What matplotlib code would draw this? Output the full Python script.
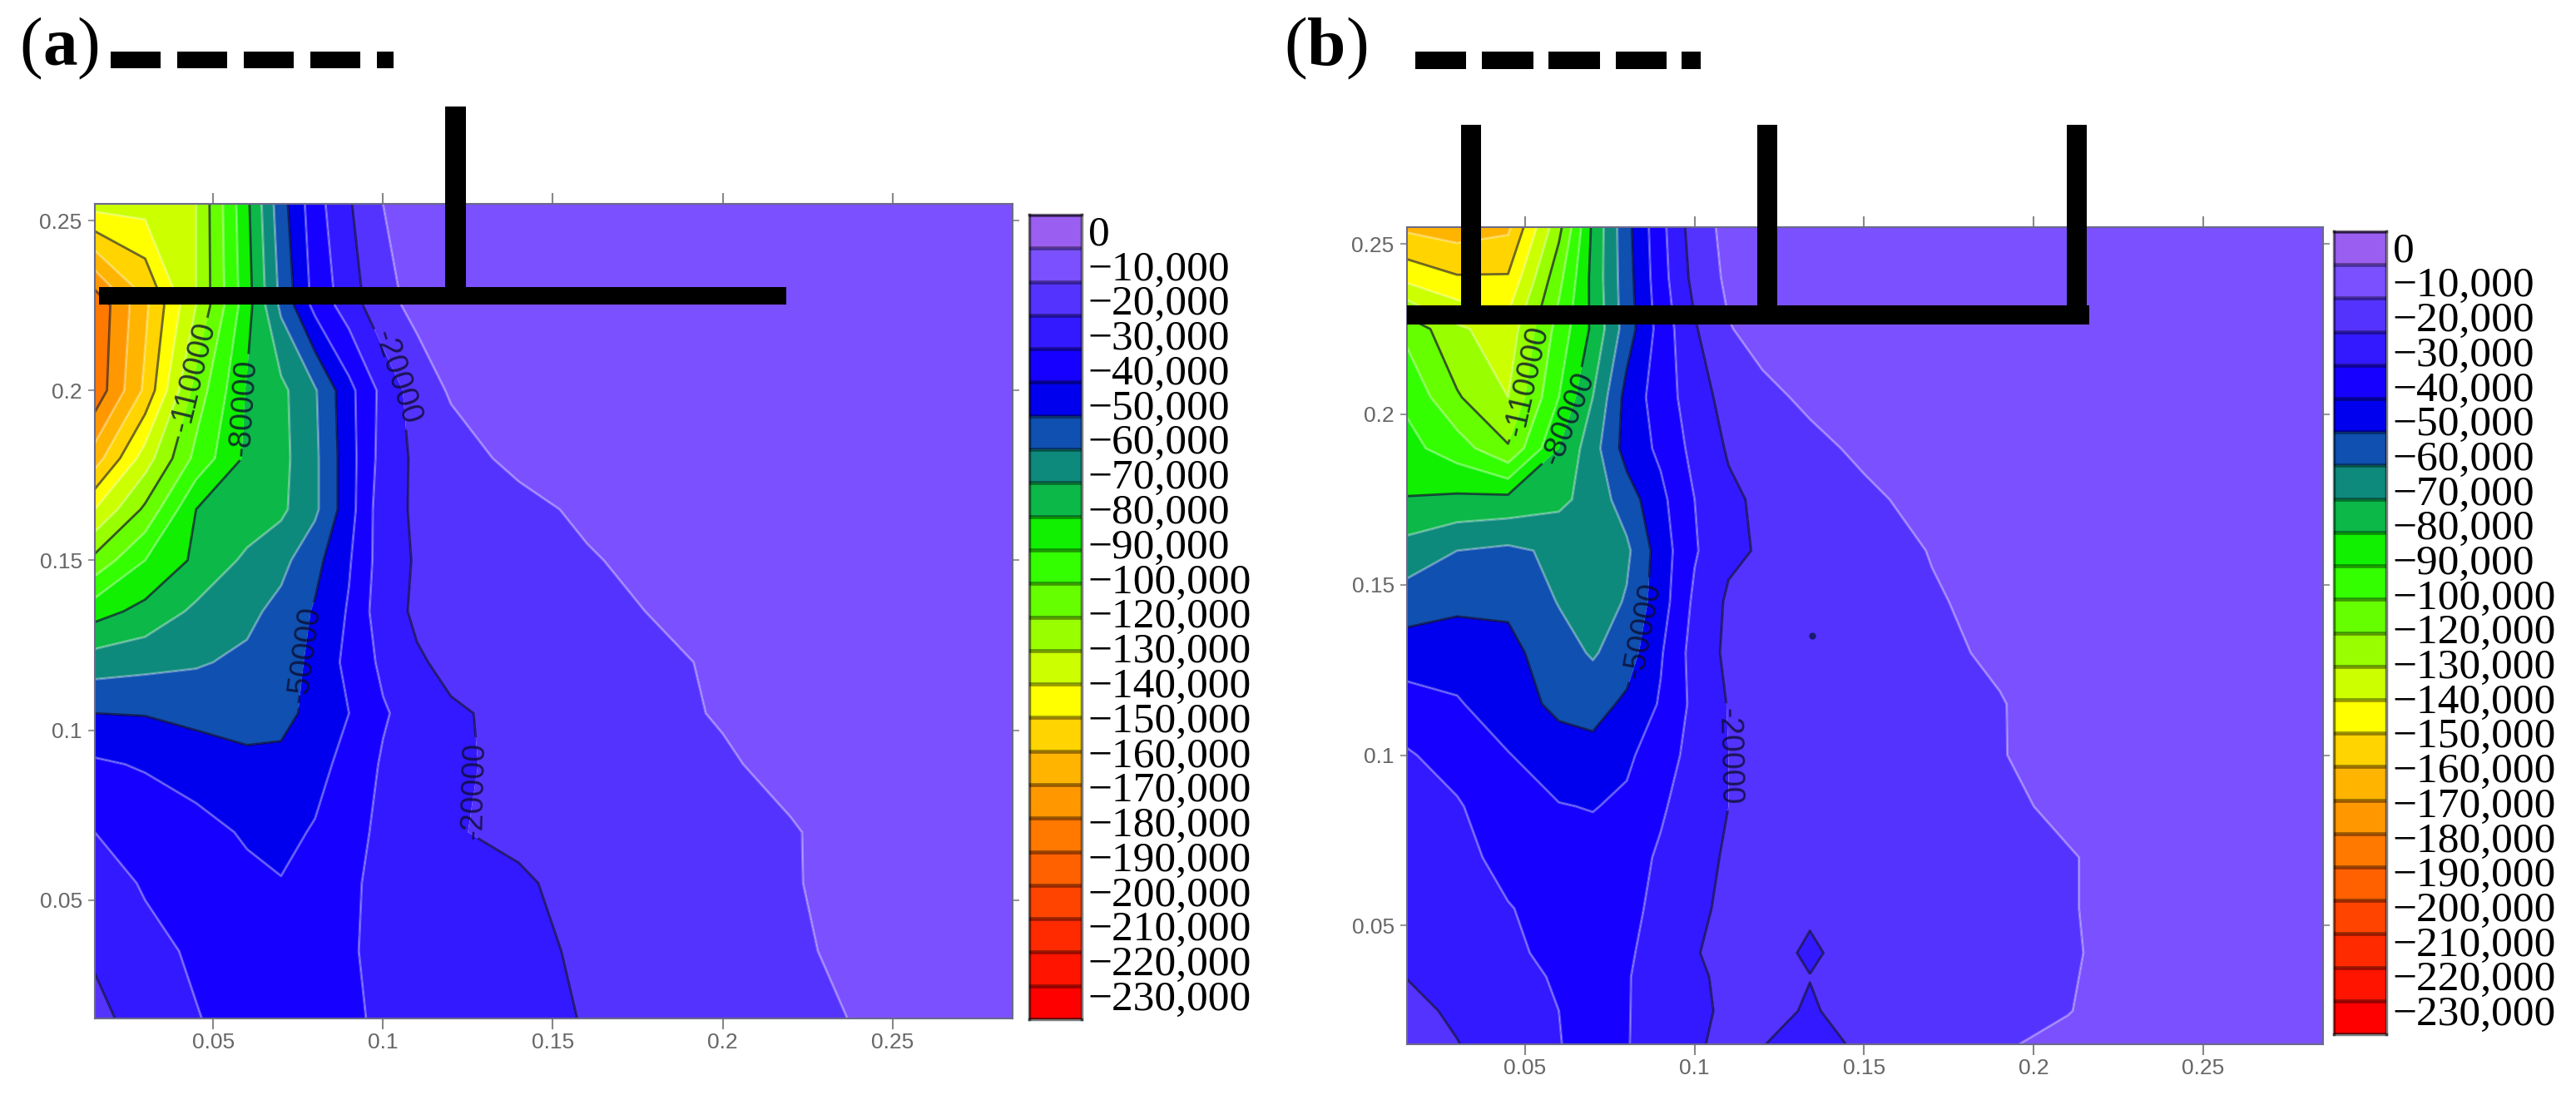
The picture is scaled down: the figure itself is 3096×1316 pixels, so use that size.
"""Two contour panels (a, b) with a stepped colour bar and black probe sketches."""
import numpy as np
import matplotlib
matplotlib.use("Agg")
import matplotlib.pyplot as plt
from matplotlib.colors import ListedColormap
from matplotlib.patches import Rectangle

W, H = 3096, 1316

# field values in thousands, rows run bottom to top
X_A = [0.0152, 0.03, 0.045, 0.06, 0.07, 0.08, 0.09, 0.10, 0.11, 0.12, 0.14, 0.16, 0.18, 0.20, 0.22, 0.24, 0.2853]
Y_A = [0.0152, 0.035, 0.055, 0.07, 0.09, 0.105, 0.12, 0.135, 0.15, 0.165, 0.18, 0.2, 0.225, 0.2549]
Z_A = [
    [-18, -23, -29.5, -34, -36, -35, -32, -28, -26, -25, -23, -19.5, -17, -15, -12.5, -9.5, -1],
    [-21, -27, -31.5, -34, -35, -34, -31, -27.5, -25.5, -24.5, -22.5, -18.5, -16, -14, -12, -7, -1],
    [-25, -31, -34.5, -38, -39.5, -36.5, -31.5, -27.5, -25, -24, -21, -17.5, -15.5, -13.5, -11, -5.5, -1],
    [-30, -33, -37, -41, -43, -39, -33, -28, -24.5, -20.5, -18.5, -17, -15.5, -14, -11, -5, -1],
    [-38.5, -41, -44, -47, -47.5, -44, -36, -29, -25, -21, -18.5, -16.5, -14.5, -11.5, -6.5, -4, -1],
    [-50, -50.5, -53, -55, -53, -47, -40, -31, -26, -21, -18, -16, -13, -9, -6, -3.5, -1],
    [-65, -63, -61, -58, -54, -48, -37, -28, -21, -18, -16.5, -15, -12, -8.5, -5, -3, -1],
    [-84, -77, -68, -62.5, -57, -49, -39, -24, -18.5, -17.5, -16, -13, -9.5, -6, -4, -2.5, -1],
    [-107, -90, -78, -68, -63, -53, -41, -25, -19, -18, -15, -11, -7, -5, -3.5, -2.5, -1],
    [-130, -108, -80, -76, -72, -62, -44, -24, -18.5, -17, -13, -8, -5, -4, -3, -2, -1],
    [-155, -125, -97, -78, -73, -62, -44, -26, -18, -14, -7.5, -4, -3.5, -3, -2.5, -2, -1],
    [-177, -148, -106, -79, -72.5, -61, -43, -27, -15, -9, -5, -3.5, -3, -2.5, -2, -2, -1],
    [-178, -152, -120, -84, -58, -37, -25, -13, -7.5, -5, -3.5, -3, -2.5, -2, -2, -1.5, -1],
    [-126, -126, -120, -82, -54, -34, -21, -10, -6, -4, -3, -2.5, -2, -2, -1.5, -1.5, -1],
]

X_B = [0.0152, 0.03, 0.045, 0.06, 0.07, 0.08, 0.09, 0.10, 0.11, 0.12, 0.134, 0.15, 0.17, 0.19, 0.21, 0.23, 0.2853]
Y_B = [0.0152, 0.025, 0.035, 0.042, 0.055, 0.07, 0.085, 0.10, 0.115, 0.13, 0.145, 0.16, 0.175, 0.19, 0.205, 0.225, 0.24, 0.2549]
Z_B = [
    [-15, -19.7, -25, -29.7, -33, -30.3, -27, -21, -18, -19.7, -24, -18, -15, -11, -7.5, -4, -1],
    [-17.5, -21.5, -26, -30, -33, -30.5, -26, -22.5, -18, -17, -21, -16, -15, -13, -10.4, -5, -1],
    [-20.2, -23.5, -27, -31, -33, -30.5, -26.5, -21.5, -18, -16.5, -19.8, -15.5, -15, -14, -11, -5, -1],
    [-21, -24.5, -28.5, -32, -33, -31, -27, -20.5, -17.5, -16, -21.5, -15.5, -15, -14, -11.5, -5, -1],
    [-23, -26, -29.5, -33.5, -35, -32, -28, -22, -18, -16.5, -18.5, -16, -15.5, -14.5, -11, -5, -1],
    [-24.5, -27, -33, -36, -36, -33, -29, -25.5, -18, -17, -16.5, -16, -15.5, -14.5, -11, -5, -1],
    [-27, -29, -36.5, -39.5, -40.5, -38, -31, -26, -20, -18.5, -17.5, -16.5, -15, -13, -7, -4, -1],
    [-29, -34, -39.5, -46, -46.5, -42, -34, -27, -20, -18, -17, -16, -14, -10.5, -6, -3.5, -1],
    [-36, -39, -46, -52, -54, -48, -39, -27.5, -19.5, -17, -16, -15, -13, -10.5, -5.5, -3, -1],
    [-45, -45, -47, -56, -61, -55, -41, -26, -18, -17, -16, -14.5, -12, -8.5, -5, -3, -1],
    [-55, -52, -52, -60.5, -66, -59, -44.5, -28, -18.5, -18, -17, -15, -11, -7, -4.5, -3, -1],
    [-66, -60, -58, -62, -65, -62, -45, -31, -22, -19, -18, -15, -9.5, -6, -4, -3, -1],
    [-79.5, -78, -77, -72.5, -66, -55, -42.5, -30, -22, -18, -16, -11.5, -7.5, -5, -3.5, -2.5, -1],
    [-87, -95, -109, -80, -64, -46, -38, -27, -19, -16.5, -12, -8.5, -5, -3.5, -3, -2, -1],
    [-92, -109, -120, -90, -70, -46.5, -35, -25, -16, -12, -8.5, -6, -4, -3, -2.5, -2, -1],
    [-103, -118, -126, -96, -78, -55, -36, -21, -10.5, -7, -5, -3.5, -3, -2.5, -2, -1.5, -1],
    [-133, -139, -139, -103, -77, -54, -34, -17, -8, -5, -4, -3.5, -3, -2.5, -2, -1.5, -1],
    [-152, -155, -152, -113, -78, -53, -33, -15, -7, -5, -4, -3.5, -3, -2.5, -2, -1.5, -1],
]

LEVELS = list(range(-230, 1, 10))
DARK_LEVELS = [-170, -140]
LABELLED_LEVELS = [-110, -80, -50, -20]
LIGHT_LEVELS = [-160, -150, -130, -120, -100, -90, -70, -60, -40, -30, -10]
STEP_COLOURS = ["#9A5FF0", "#7B50FF", "#5533FF", "#3319FF", "#1600FF", "#0000EE", "#0F50B0", "#0E8A7C",
                "#0CB848", "#10F000", "#33FF00", "#66FF00", "#99FF00", "#CCFF00", "#FFFF00", "#FFD400",
                "#FFB400", "#FF9800", "#FF7800", "#FF6000", "#FF4400", "#FF2A00", "#FF1400", "#FF0000"]
BAR_LABELS = ["0", "−10,000", "−20,000", "−30,000", "−40,000", "−50,000", "−60,000", "−70,000",
              "−80,000", "−90,000", "−100,000", "−120,000", "−130,000", "−140,000", "−150,000",
              "−160,000", "−170,000", "−180,000", "−190,000", "−200,000", "−210,000", "−220,000", "−230,000"]
TICKS = [0.05, 0.1, 0.15, 0.2, 0.25]
TICK_LABELS = ["0.05", "0.1", "0.15", "0.2", "0.25"]

# contour label anchors
LABELS_A = [(0.0436, 0.204), (0.0593, 0.195), (0.078, 0.122), (0.101, 0.2023), (0.1218, 0.083)]
LABELS_B = [(0.0512, 0.2096), (0.0618, 0.199), (0.0831, 0.1369), (0.1093, 0.0995)]
SPECK_B = ([0.1346], [0.135])

# pixel boxes: left, top, right, bottom
PLOT_A = (114, 245, 1217, 1224)
PLOT_B = (1691, 273, 2792, 1255)
CBAR_A = (1237, 258, 1300, 1225)
CBAR_B = (2805, 278, 2868, 1243)

# black sketch overlay, pixel boxes
SKETCH_RECTS = [
    (133, 62, 193, 82), (213, 62, 273, 82), (293, 62, 353, 82), (373, 62, 433, 82), (453, 62, 473, 82),
    (119, 345, 945, 366), (535, 128, 560, 350),
    (1701, 62, 1762, 83), (1781, 62, 1843, 83), (1861, 62, 1923, 83), (1942, 62, 2003, 83), (2021, 62, 2044, 83),
    (1691, 367, 2511, 390), (1756, 150, 1780, 370), (2112, 150, 2136, 370), (2484, 150, 2508, 370),
]

plt.rcParams["font.family"] = ["Liberation Sans", "DejaVu Sans"]


def px_axes(fig, box, **kw):
    l, t, r, b = box
    return fig.add_axes([l / W, 1 - b / H, (r - l) / W, (b - t) / H], **kw)


def draw_panel(fig, box, x, y, z, label_pos, xlim, ylim):
    ax = px_axes(fig, box)
    x, y, z = np.array(x), np.array(y), np.array(z)
    ax.contourf(x, y, z, levels=LEVELS, colors=STEP_COLOURS[:0:-1], antialiased=True)
    ax.contour(x, y, z, levels=LIGHT_LEVELS, colors="white", alpha=0.3, linewidths=2.2, linestyles="solid")
    ax.contour(x, y, z, levels=DARK_LEVELS, colors="#101030", alpha=0.6, linewidths=2.0, linestyles="solid")
    cs = ax.contour(x, y, z, levels=LABELLED_LEVELS, colors="#101030", alpha=0.7, linewidths=2.0,
                    linestyles="solid")
    texts = ax.clabel(cs, manual=label_pos, inline=True, inline_spacing=6,
                      fontsize=27, fmt=lambda v: f"{v * 1000:.0f}")
    for t in texts:
        t.set_color("#0c0c30")
        t.set_alpha(0.8)
    ax.set_xlim(xlim)
    ax.set_ylim(ylim)
    ax.set_xticks(TICKS, TICK_LABELS)
    ax.set_yticks(TICKS, TICK_LABELS)
    ax.tick_params(axis="x", top=True, direction="out", length=9.5, width=1.5, color="#888888",
                   labelsize=19, labelcolor="#666666", pad=3)
    ax.tick_params(axis="y", right=True, direction="out", length=6, width=1.5, color="#999999",
                   labelsize=19, labelcolor="#666666", pad=5)
    for s in ax.spines.values():
        s.set_color("#6a6a8a")
        s.set_linewidth(1.5)
    return ax


def draw_bar(fig, box):
    cax = px_axes(fig, box)
    cells = np.arange(len(STEP_COLOURS)).reshape(-1, 1)
    cax.pcolormesh(cells, cmap=ListedColormap(STEP_COLOURS), vmin=-0.5, vmax=len(STEP_COLOURS) - 0.5)
    # darker separators between the steps, as in the pasted legend
    for i in range(len(STEP_COLOURS) + 1):
        cax.axhline(i, color="black", alpha=0.4, linewidth=3.4)
    cax.set_ylim(len(STEP_COLOURS), 0)
    cax.set_xticks([])
    cax.yaxis.tick_right()
    cax.set_yticks([0.47 + i * 1.037 for i in range(len(BAR_LABELS))], BAR_LABELS)
    cax.tick_params(axis="y", length=0, pad=5.5, labelsize=37, labelfontfamily="Liberation Serif")
    for s in cax.spines.values():
        s.set_color((0, 0, 0, 0.5))
        s.set_linewidth(2.5)
    return cax


fig = plt.figure(figsize=(W / 100, H / 100), dpi=100, facecolor="white")

draw_panel(fig, PLOT_A, X_A, Y_A, Z_A, LABELS_A, (0.0152, 0.2853), (0.0152, 0.2549))
ax_b = draw_panel(fig, PLOT_B, X_B, Y_B, Z_B, LABELS_B, (0.0152, 0.2853), (0.0152, 0.2549))
ax_b.plot(*SPECK_B, ls="none", marker="o", ms=5, color="#1a1a70")
draw_bar(fig, CBAR_A)
draw_bar(fig, CBAR_B)

# sketch layer in pixel coordinates
over = fig.add_axes([0, 0, 1, 1], zorder=10)
over.set_xlim(0, W)
over.set_ylim(H, 0)
over.axis("off")
over.patch.set_alpha(0)
for l, t, r, b in SKETCH_RECTS:
    over.add_patch(Rectangle((l, t), r - l, b - t, color="black", lw=0))

serif = "Liberation Serif"
over.text(23, 78, "(", fontsize=60, family=serif, va="baseline")
over.text(51, 78, "a", fontsize=60, family=serif, weight="bold", va="baseline")
over.text(92, 78, ")", fontsize=60, family=serif, va="baseline")
over.text(1543, 78, "(", fontsize=60, family=serif, va="baseline")
over.text(1571, 78, "b", fontsize=60, family=serif, weight="bold", va="baseline")
over.text(1617, 78, ")", fontsize=60, family=serif, va="baseline")

fig.savefig("out.png", dpi=100)
